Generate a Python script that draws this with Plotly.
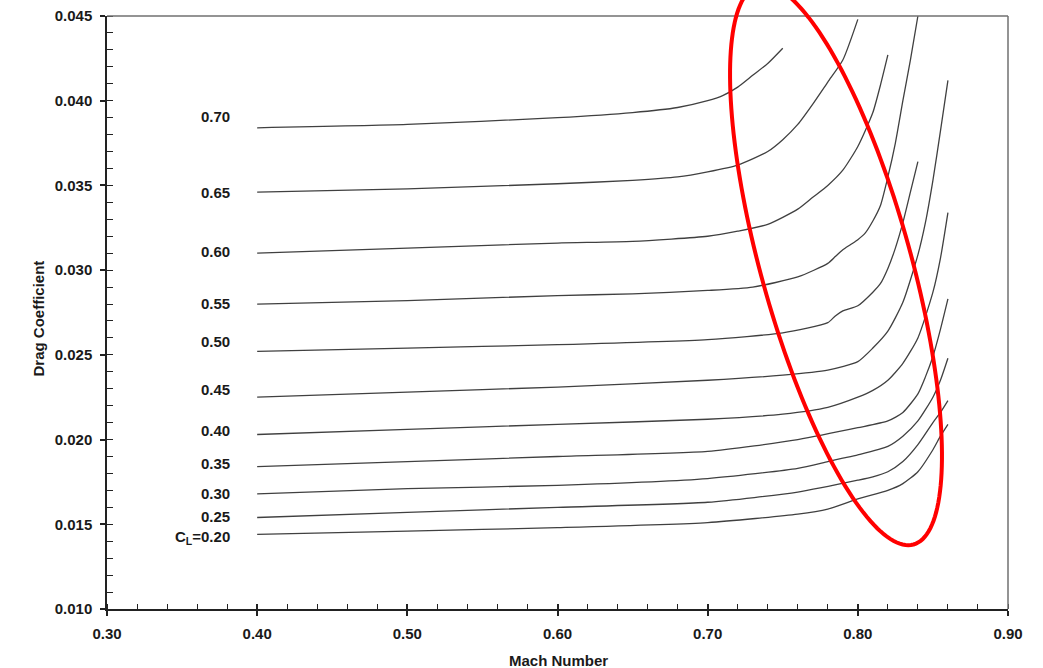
import numpy as np
import plotly.graph_objects as go

# Drag polar data: drag coefficient versus Mach number for each lift coefficient
mach_cl070 = [0.40, 0.50, 0.60, 0.65, 0.68, 0.70, 0.71, 0.72, 0.73, 0.74, 0.75]
cd_cl070 = [0.0384, 0.0386, 0.0390, 0.0393, 0.0396, 0.0400, 0.0403, 0.0408, 0.0415, 0.0422, 0.0431]

mach_cl065 = [0.40, 0.50, 0.60, 0.65, 0.68, 0.70, 0.72, 0.74, 0.75, 0.76, 0.77, 0.78, 0.79, 0.80]
cd_cl065 = [0.0346, 0.0348, 0.0351, 0.0353, 0.0355, 0.0358, 0.0362, 0.0370, 0.0377, 0.0386, 0.0398, 0.0411, 0.0424, 0.0448]

mach_cl060 = [0.40, 0.50, 0.60, 0.65, 0.70, 0.72, 0.74, 0.76, 0.77, 0.78, 0.79, 0.80, 0.81, 0.815, 0.82]
cd_cl060 = [0.0310, 0.0313, 0.0316, 0.0317, 0.0320, 0.0323, 0.0327, 0.0336, 0.0343, 0.0350, 0.0359, 0.0373, 0.0393, 0.0409, 0.0427]

mach_cl055 = [0.40, 0.50, 0.60, 0.65, 0.70, 0.73, 0.76, 0.78, 0.785, 0.79, 0.795, 0.80, 0.805, 0.81, 0.815, 0.82, 0.825, 0.83, 0.835, 0.84]
cd_cl055 = [0.0280, 0.0282, 0.0285, 0.0286, 0.0288, 0.0290, 0.0296, 0.0304, 0.0308, 0.0312, 0.0315, 0.0318, 0.0322, 0.0329, 0.0338, 0.0355, 0.0375, 0.0400, 0.0424, 0.0450]

mach_cl050 = [0.40, 0.50, 0.60, 0.70, 0.75, 0.78, 0.785, 0.79, 0.80, 0.81, 0.815, 0.82, 0.825, 0.83, 0.835, 0.84]
cd_cl050 = [0.0252, 0.0254, 0.0256, 0.0259, 0.0263, 0.0269, 0.0273, 0.0276, 0.0279, 0.0287, 0.0292, 0.0301, 0.0313, 0.0328, 0.0346, 0.0364]

mach_cl045 = [0.40, 0.50, 0.60, 0.70, 0.75, 0.78, 0.80, 0.81, 0.82, 0.83, 0.84, 0.845, 0.85, 0.855, 0.86]
cd_cl045 = [0.0225, 0.0228, 0.0231, 0.0235, 0.0238, 0.0241, 0.0246, 0.0254, 0.0264, 0.0281, 0.0309, 0.0328, 0.0353, 0.0382, 0.0412]

mach_cl040 = [0.40, 0.50, 0.60, 0.70, 0.75, 0.78, 0.80, 0.81, 0.82, 0.83, 0.84, 0.85, 0.855, 0.86]
cd_cl040 = [0.0203, 0.0206, 0.0209, 0.0212, 0.0215, 0.0219, 0.0225, 0.0229, 0.0235, 0.0245, 0.0260, 0.0287, 0.0307, 0.0334]

mach_cl035 = [0.40, 0.50, 0.60, 0.70, 0.76, 0.80, 0.82, 0.83, 0.84, 0.845, 0.85, 0.855, 0.86]
cd_cl035 = [0.0184, 0.0187, 0.0190, 0.0193, 0.0200, 0.0207, 0.0211, 0.0216, 0.0227, 0.0237, 0.0249, 0.0265, 0.0283]

mach_cl030 = [0.40, 0.50, 0.60, 0.70, 0.76, 0.78, 0.79, 0.80, 0.82, 0.83, 0.84, 0.85, 0.855, 0.86]
cd_cl030 = [0.0168, 0.0171, 0.0173, 0.0177, 0.0183, 0.0187, 0.0189, 0.0191, 0.0196, 0.0202, 0.0211, 0.0225, 0.0235, 0.0248]

mach_cl025 = [0.40, 0.50, 0.60, 0.70, 0.76, 0.80, 0.81, 0.82, 0.83, 0.84, 0.85, 0.855, 0.86]
cd_cl025 = [0.0154, 0.0157, 0.0160, 0.0163, 0.0169, 0.0176, 0.0178, 0.0181, 0.0187, 0.0197, 0.0210, 0.0216, 0.0223]

mach_cl020 = [0.40, 0.50, 0.60, 0.70, 0.76, 0.78, 0.80, 0.82, 0.83, 0.84, 0.85, 0.855, 0.86]
cd_cl020 = [0.0144, 0.0146, 0.0148, 0.0151, 0.0156, 0.0159, 0.0165, 0.0170, 0.0174, 0.0181, 0.0194, 0.0202, 0.0209]

curve_labels = ["0.70", "0.65", "0.60", "0.55", "0.50", "0.45",
                "0.40", "0.35", "0.30", "0.25", "C<sub>L</sub>=0.20"]
mach_series = [mach_cl070, mach_cl065, mach_cl060, mach_cl055, mach_cl050, mach_cl045,
               mach_cl040, mach_cl035, mach_cl030, mach_cl025, mach_cl020]
cd_series = [cd_cl070, cd_cl065, cd_cl060, cd_cl055, cd_cl050, cd_cl045,
             cd_cl040, cd_cl035, cd_cl030, cd_cl025, cd_cl020]

# vertical nudge (px) of each curve label relative to the start of its line
label_yshift = [11, 0, 2, 1, 10, 8, 4, 3, 0, 1, -3]

W, H = 1043, 668
ML, MR, MT, MB = 107, 35, 16, 59
X_RANGE = [0.30, 0.90]
Y_RANGE = [0.010, 0.045]

TEXT = "#1a1a1a"
AXIS = "#222222"
FONT = "Liberation Sans, Arial, Helvetica, sans-serif"

fig = go.Figure()

for mach, cd in zip(mach_series, cd_series):
    fig.add_trace(go.Scatter(
        x=mach, y=cd, mode="lines",
        line=dict(color="#404040", width=1.3, shape="spline", smoothing=0.6),
        hoverinfo="skip", showlegend=False,
    ))

# helper trace so the overlay axis (inner half of the major x ticks) is drawn
fig.add_trace(go.Scatter(x=[None], y=[None], xaxis="x2", showlegend=False, hoverinfo="skip"))

annotations = []
for text, mach, cd, dy in zip(curve_labels, mach_series, cd_series, label_yshift):
    annotations.append(dict(
        x=mach[0], y=cd[0], xref="x", yref="y", text=f"<b>{text}</b>",
        showarrow=False, xanchor="right", yanchor="middle",
        xshift=-25, yshift=dy,
        font=dict(family=FONT, size=15, color=TEXT),
    ))

plot_w = W - ML - MR
plot_h = H - MT - MB

def px_to_paper(px, py):
    return (px - ML) / plot_w, (H - MB - py) / plot_h

annotations.append(dict(
    x=px_to_paper(38.5, 0)[0], y=px_to_paper(0, 319)[1], xref="paper", yref="paper",
    text="<b>Drag Coefficient</b>", textangle=-90, showarrow=False,
    xanchor="center", yanchor="middle",
    font=dict(family=FONT, size=15, color=TEXT),
))
annotations.append(dict(
    x=px_to_paper(558.5, 0)[0], y=px_to_paper(0, 660)[1], xref="paper", yref="paper",
    text="<b>Mach Number</b>", showarrow=False,
    xanchor="center", yanchor="middle",
    font=dict(family=FONT, size=15, color=TEXT),
))

# red highlight ellipse around the drag-rise knees (screen-space geometry)
ell_cx, ell_cy, ell_a, ell_b, ell_phi = 836.0, 265.0, 290.0, 75.0, np.deg2rad(74.5)
t = np.linspace(0, 2 * np.pi, 181)
ex = ell_cx + ell_a * np.cos(t) * np.cos(ell_phi) - ell_b * np.sin(t) * np.sin(ell_phi)
ey = ell_cy + ell_a * np.cos(t) * np.sin(ell_phi) + ell_b * np.sin(t) * np.cos(ell_phi)
pts = [px_to_paper(a, b) for a, b in zip(ex, ey)]
ell_path = "M " + " L ".join(f"{u:.5f},{v:.5f}" for u, v in pts) + " Z"

shapes = [
    dict(type="line", xref="paper", yref="paper", x0=0, x1=1, y0=1, y1=1,
         line=dict(color="#707070", width=1.5)),
    dict(type="line", xref="paper", yref="paper", x0=1, x1=1, y0=0, y1=1,
         line=dict(color="#707070", width=1.5)),
    dict(type="path", xref="paper", yref="paper", path=ell_path,
         line=dict(color="#ff0000", width=4), layer="above"),
]

tickfont = dict(family=FONT, size=15, color=TEXT, weight="bold")

fig.update_layout(
    width=W, height=H,
    margin=dict(l=ML, r=MR, t=MT, b=MB, autoexpand=False),
    plot_bgcolor="white", paper_bgcolor="white",
    showlegend=False,
    annotations=annotations,
    shapes=shapes,
    xaxis=dict(
        range=X_RANGE, tick0=0.30, dtick=0.1, tickformat=".2f",
        showline=True, linecolor=AXIS, linewidth=1.5,
        ticks="outside", ticklen=5, tickwidth=1.5, tickcolor=AXIS,
        minor=dict(dtick=0.02, ticks="inside", ticklen=5, tickwidth=1.3, tickcolor=AXIS),
        showgrid=False, zeroline=False, tickfont=tickfont,
        ticklabelstandoff=5, automargin=False,
    ),
    xaxis2=dict(
        range=X_RANGE, overlaying="x", anchor="y", side="bottom",
        tick0=0.30, dtick=0.1, ticks="inside", ticklen=5, tickwidth=1.5, tickcolor=AXIS,
        showticklabels=False, showline=False, showgrid=False, zeroline=False,
        automargin=False,
    ),
    yaxis=dict(
        range=Y_RANGE, tick0=0.010, dtick=0.005, tickformat=".3f",
        showline=True, linecolor=AXIS, linewidth=1.5,
        ticks="outside", ticklen=5, tickwidth=1.5, tickcolor=AXIS,
        minor=dict(dtick=0.001, ticks="inside", ticklen=6, tickwidth=1.3, tickcolor=AXIS),
        showgrid=False, zeroline=False, tickfont=tickfont,
        ticklabelstandoff=5, automargin=False,
    ),
)

fig.write_html("out.html")
